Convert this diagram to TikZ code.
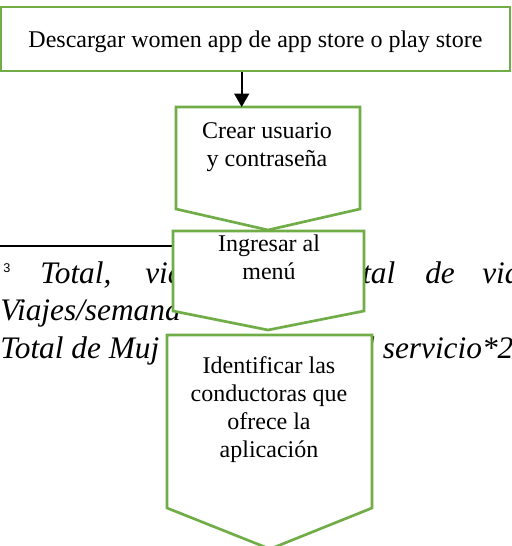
\documentclass[tikz,border=0pt]{standalone}
\usepackage{fontspec}
\setmainfont{Liberation Serif}
\newfontfamily\supfont{Liberation Sans}
\usetikzlibrary{arrows.meta}
\definecolor{flowgreen}{HTML}{70AD47}
\tikzset{
    flowbox/.style={draw=flowgreen,fill=white,line width=2pt},
    boxtext/.style={font=\fontsize{18}{21}\selectfont,align=center,inner sep=0pt,anchor=base},
    notetext/.style={font=\fontsize{23.5}{28}\selectfont\itshape,anchor=base west,inner sep=0pt},
    flowarrow/.style={-{Triangle[width=11pt,length=10pt]},line width=1.5pt}
}
\begin{document}
\begin{tikzpicture}[x=0.75pt,y=-0.75pt]
        \clip (0,0) rectangle (511,546);
        \fill [white] (0,0) rectangle (511,546);
        \draw [line width=1.5pt] (0,246) -- (200,246);
        \node [anchor=base west,inner sep=0pt,font=\supfont\fontsize{9.5}{11}\selectfont] (fnmark) at (3,272) {3};
        \node [notetext] (total) at (40,283) {Total,};
        \node [notetext] (viaA) at (145,283) {via};
        \node [notetext] (tal) at (362,283) {tal};
        \node [notetext] (de) at (425,283) {de};
        \node [notetext] (viaB) at (482,283) {via};
        \node [notetext] (viajes) at (0,320) {Viajes/semana};
        \node [notetext] (mujeres) at (0,358) {Total de Muj};
        \node [notetext] (servicio) at (366,358) {l servicio*2};
        \node [flowbox,minimum width=381.75pt,minimum height=48pt,text depth=0pt,font=\fontsize{18}{21}\selectfont] (descargar) at (255.5,39) {Descargar women app de app store o play store};
        \filldraw [flowbox] (176,107) -- (360,107) -- (360,209) -- (268,230) -- (176,209) -- cycle;
        \coordinate (crear top) at (241.7,107);
        \node [boxtext] (crear) at (267,166) {Crear usuario\\y contraseña};
        \filldraw [flowbox] (173,231) -- (364,231) -- (364,311) -- (268,330) -- (173,311) -- cycle;
        \node [boxtext] (ingresar) at (269,279) {Ingresar al\\menú};
        \filldraw [flowbox] (167,335) -- (372,335) -- (372,508) -- (270,549) -- (167,508) -- cycle;
        \node [boxtext] (identificar) at (269,457) {Identificar las\\conductoras que\\ofrece la\\aplicación};
        \draw [flowarrow] (descargar.south -| crear top) -- (crear top);
    \end{tikzpicture}
\end{document}
